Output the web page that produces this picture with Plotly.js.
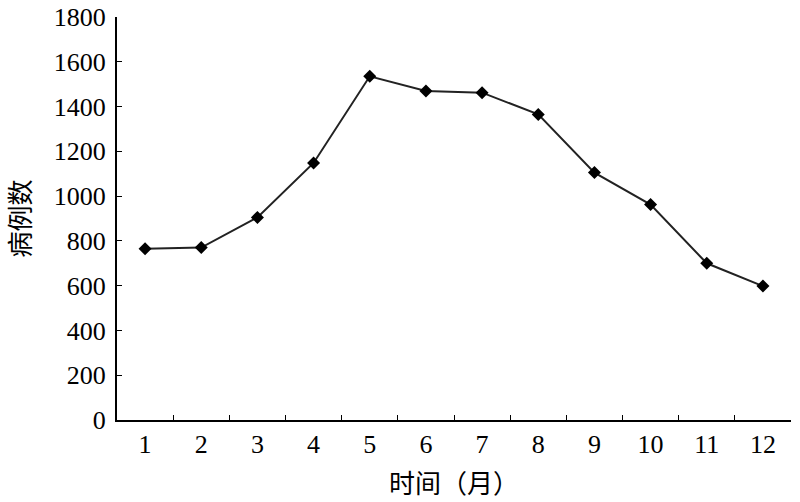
<!DOCTYPE html>
<html>
<head>
<meta charset="utf-8">
<script src="https://cdn.plot.ly/plotly-3.0.1.min.js"></script>
<style>
  body { margin: 0; background: #fff; }
  #plot { width: 800px; height: 502px; }
</style>
</head>
<body>
<div id="plot"></div>
<script>
// monthly case counts
let months = ["1", "2", "3", "4", "5", "6", "7", "8", "9", "10", "11", "12"];
let cases = [765, 770, 905, 1148, 1535, 1470, 1462, 1365, 1105, 962, 700, 598];
let yTicks = [0, 200, 400, 600, 800, 1000, 1200, 1400, 1600, 1800];

let trace1 = {
  x: months,
  y: cases,
  type: "scatter",
  mode: "lines+markers",
  line: { color: "#222", width: 2 },
  marker: { symbol: "diamond", size: 10, color: "#000" },
  hoverinfo: "x+y"
};

let serif = "Liberation Serif, Times New Roman, serif";
let cjk = "Noto Sans CJK SC, sans-serif";

let layout = {
  width: 800,
  height: 502,
  showlegend: false,
  paper_bgcolor: "#fff",
  plot_bgcolor: "#fff",
  margin: { l: 117, r: 9, t: 17, b: 82 },
  xaxis: {
    type: "category",
    range: [-0.5, months.length - 0.5],
    showline: true,
    linecolor: "#000",
    linewidth: 2,
    ticks: "inside",
    tickson: "boundaries",
    ticklen: 5,
    tickwidth: 1,
    tickcolor: "#000",
    showgrid: false,
    zeroline: false,
    tickfont: { family: serif, size: 26, color: "#000" },
    title: { text: "时间（月）", font: { family: cjk, size: 26, color: "#000" }, standoff: 17 }
  },
  yaxis: {
    range: [0, 1800],
    tickvals: yTicks,
    showline: true,
    linecolor: "#000",
    linewidth: 2,
    ticks: "inside",
    ticklen: 5,
    tickwidth: 1,
    tickcolor: "#000",
    showgrid: false,
    zeroline: false,
    ticklabelstandoff: 4,
    tickfont: { family: serif, size: 26, color: "#000" },
    title: { text: "病例数", font: { family: cjk, size: 26, color: "#000" }, standoff: 16 }
  }
};

Plotly.newPlot("plot", [trace1], layout, { displayModeBar: false });
</script>
</body>
</html>
